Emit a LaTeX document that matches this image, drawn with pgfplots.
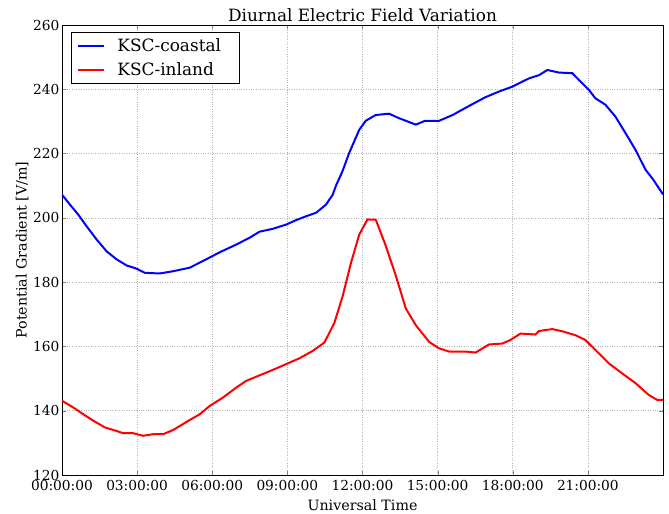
\documentclass[border=0pt]{standalone}
\usepackage{pgfplots}
\pgfplotsset{compat=1.18}
\usepackage{fontspec}
\setmainfont{DejaVu Serif}
\begin{document}
\begin{tikzpicture}
\path[use as bounding box] (-62bp,-39bp) rectangle (607bp,475bp);
\begin{axis}[
  scale only axis,
  width=601bp, height=450bp,
  xmin=0, xmax=24, ymin=120, ymax=260,
  xtick={0,3,...,21},
  xticklabels={00:00:00,03:00:00,06:00:00,09:00:00,12:00:00,15:00:00,18:00:00,21:00:00},
  ytick={120,140,...,260},
  /pgf/number format/assume math mode=true,
  tick label style={font=\fontsize{13.8}{15}\selectfont},
  yticklabel style={xshift=1bp},
  xticklabel style={yshift=-2bp},
  tick align=inside,
  major tick length=4bp,
  grid=major,
  major grid style={gray!60, dotted, line width=0.6pt},
  axis line style={line width=0.8pt},
  title={Diurnal Electric Field Variation},
  title style={font=\fontsize{17}{19}\selectfont, yshift=-6bp},
  xlabel={Universal Time},
  ylabel={Potential Gradient [V/m]},
  label style={font=\fontsize{14.3}{16}\selectfont},
  xlabel style={yshift=-2bp},
  ylabel style={yshift=-2bp},
  legend style={at={(0.015,0.985)}, anchor=north west, font=\fontsize{17}{19}\selectfont, draw=black, line width=0.7pt, row sep=5bp, inner xsep=6bp, inner ysep=5bp},
  legend cell align=left,
  legend image code/.code={\draw[#1, line width=2pt] (0bp,0bp) -- (26bp,0bp);},
  legend style={nodes={inner xsep=12bp}},
]
\addplot[blue, line width=2pt] coordinates {
(0,207.2)(0.32,204.1)(0.65,201)(0.98,197.4)(1.38,193.3)(1.78,189.6)(2.18,187.1)(2.58,185.2)(2.97,184.2)(3.31,182.9)(3.9,182.7)(4.44,183.4)(5.1,184.5)(5.76,187.1)(6.3,189.3)(6.96,191.7)(7.49,193.8)(7.89,195.7)(8.42,196.6)(8.95,197.9)(9.35,199.3)(9.75,200.5)(10.15,201.6)(10.54,204.1)(10.81,207.2)(10.94,210)(11.2,214.5)(11.47,220.2)(11.87,227.4)(12.13,230.2)(12.53,232)(13.06,232.4)(13.46,231)(14.13,229)(14.5,230.2)(15.06,230.2)(15.6,232)(16.25,234.8)(16.9,237.5)(17.45,239.3)(17.98,240.8)(18.65,243.4)(19.05,244.4)(19.38,246)(19.85,245.2)(20.38,245)(20.64,242.9)(21.04,239.8)(21.3,237.2)(21.7,235.2)(22.1,231.5)(22.5,226.4)(22.9,221.2)(23.3,215)(23.6,212)(24,207.3)
};
\addlegendentry{KSC-coastal}
\addplot[red, line width=2pt] coordinates {
(0,143.1)(0.45,141)(0.85,138.9)(1.25,136.9)(1.71,134.8)(2.18,133.7)(2.44,133)(2.84,133)(3.24,132.2)(3.64,132.7)(4.04,132.7)(4.44,134)(4.97,136.5)(5.5,138.9)(5.9,141.5)(6.43,144.1)(6.96,147.2)(7.36,149.3)(7.89,151)(8.42,152.7)(8.95,154.5)(9.48,156.3)(10.01,158.6)(10.48,161.2)(10.88,167.4)(11.21,175.7)(11.54,186)(11.87,194.8)(12.2,199.5)(12.53,199.4)(12.93,191.3)(13.33,182)(13.73,171.8)(14.13,166.6)(14.66,161.4)(15.06,159.4)(15.46,158.4)(16.12,158.4)(16.52,158.1)(17.05,160.6)(17.58,160.9)(17.91,162)(18.31,164)(18.91,163.7)(19.05,164.8)(19.58,165.4)(19.98,164.7)(20.5,163.5)(20.9,162)(21.3,158.9)(21.84,154.7)(22.37,151.6)(22.9,148.6)(23.43,144.9)(23.76,143.4)(24,143.4)
};
\addlegendentry{KSC-inland}
\end{axis}
\end{tikzpicture}
\end{document}
